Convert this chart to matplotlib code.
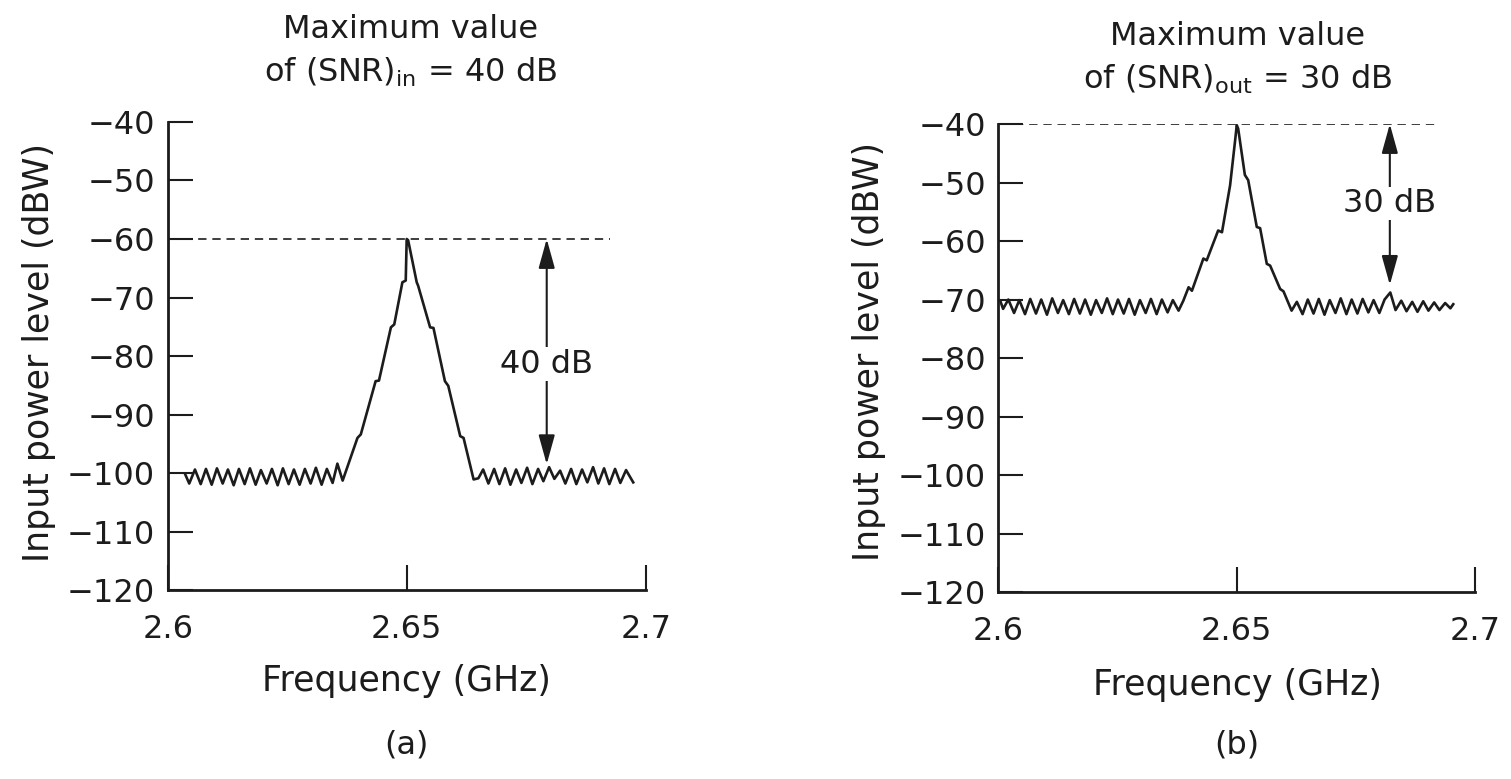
import matplotlib
matplotlib.use("Agg")
import matplotlib.pyplot as plt

plt.rcParams['font.family'] = ['DejaVu Sans']
plt.rcParams['mathtext.fontset'] = 'dejavusans'

INK = '#1c1c1c'

# (a) input spectrum: noise floor at -100 dBW, signal peak -60 dBW
freq_a = [2.6037, 2.6045, 2.6057, 2.6069, 2.6080, 2.6092, 2.6103, 2.6115, 2.6126, 2.6138,
          2.6149, 2.6161, 2.6172, 2.6184, 2.6195, 2.6207, 2.6218, 2.6230, 2.6241, 2.6253,
          2.6264, 2.6276, 2.6287, 2.6299, 2.6310, 2.6322, 2.6333, 2.6345, 2.6355, 2.6366,
          2.6397, 2.6404, 2.6435, 2.6442, 2.6467, 2.6474, 2.6491, 2.6498, 2.6500,
          2.6503, 2.6521, 2.6524, 2.6549, 2.6556, 2.6580, 2.6587, 2.6612, 2.6619, 2.6640,
          2.6650, 2.6660, 2.6671, 2.6683, 2.6694, 2.6706, 2.6717, 2.6729, 2.6740, 2.6752,
          2.6763, 2.6775, 2.6786, 2.6798, 2.6809, 2.6821, 2.6832, 2.6844, 2.6855, 2.6867,
          2.6878, 2.6890, 2.6901, 2.6913, 2.6924, 2.6936, 2.6947, 2.6959, 2.6974]
level_a = [-100.3, -101.8, -99.4, -101.9, -99.3, -102.0, -99.2, -101.8, -99.4, -102.1,
           -99.3, -101.9, -99.2, -102.0, -99.5, -101.8, -99.3, -102.1, -99.2, -101.9,
           -99.4, -102.0, -99.3, -101.8, -99.1, -102.0, -99.3, -101.7, -98.4, -101.3,
           -94.0, -93.4, -84.3, -84.2, -75.1, -74.6, -67.4, -67.1, -60.0,
           -60.2, -67.4, -68.0, -75.1, -75.2, -84.3, -85.1, -93.7, -94.0, -101.1,
           -100.9, -99.4, -101.8, -99.3, -101.9, -99.2, -102.0, -99.4, -101.7, -99.1,
           -101.9, -99.3, -101.4, -99.0, -101.0, -99.6, -101.8, -99.3, -101.9, -99.4,
           -101.6, -99.0, -101.8, -99.2, -101.9, -99.3, -101.7, -99.5, -101.6]

# (b) output spectrum: noise floor at -70 dBW, signal peak -40 dBW
freq_b = [2.6004, 2.6010, 2.6021, 2.6033, 2.6044, 2.6056, 2.6067, 2.6079, 2.6090, 2.6102,
          2.6113, 2.6125, 2.6136, 2.6148, 2.6159, 2.6171, 2.6182, 2.6194, 2.6205, 2.6217,
          2.6228, 2.6240, 2.6251, 2.6263, 2.6274, 2.6286, 2.6297, 2.6309, 2.6320, 2.6332,
          2.6343, 2.6355, 2.6366, 2.6378,
          2.6388, 2.6399, 2.6406, 2.6430, 2.6437, 2.6461, 2.6469, 2.6486, 2.6497, 2.6500,
          2.6503, 2.6517, 2.6524, 2.6542, 2.6549, 2.6563, 2.6570, 2.6591, 2.6598, 2.6615,
          2.6626, 2.6638, 2.6649, 2.6661, 2.6672, 2.6684, 2.6695, 2.6707, 2.6718, 2.6730,
          2.6741, 2.6753, 2.6764, 2.6776, 2.6787, 2.6799, 2.6810, 2.6822, 2.6833, 2.6845,
          2.6856, 2.6868, 2.6879, 2.6891, 2.6902, 2.6914, 2.6925, 2.6937, 2.6948, 2.6954]
level_b = [-70.2, -71.6, -70.0, -72.3, -70.1, -72.5, -69.9, -72.4, -70.0, -72.6,
           -69.8, -72.3, -70.1, -72.5, -69.9, -72.4, -70.0, -72.6, -70.1, -72.3,
           -69.8, -72.5, -70.0, -72.4, -69.9, -72.6, -70.1, -72.3, -69.9, -72.5,
           -70.0, -72.2, -70.1, -71.9,
           -70.2, -67.9, -68.5, -63.0, -63.3, -58.2, -58.5, -50.5, -42.5, -40.2,
           -40.8, -48.7, -49.6, -57.6, -57.8, -63.9, -64.2, -68.2, -68.6, -71.9,
           -70.4, -72.5, -70.0, -72.4, -69.9, -72.6, -70.1, -72.3, -69.8, -72.5,
           -70.0, -72.4, -69.9, -72.2, -70.1, -72.3, -70.0, -68.8, -71.8, -70.2,
           -72.0, -70.4, -72.1, -70.3, -71.9, -70.5, -71.8, -70.6, -71.5, -70.8]

x_ticks = [2.6, 2.65, 2.7]
x_ticklabels = ['2.6', '2.65', '2.7']
y_ticks = [-120, -110, -100, -90, -80, -70, -60, -50, -40]
y_ticklabels = ['\u2212120', '\u2212110', '\u2212100', '\u221290', '\u221280',
                '\u221270', '\u221260', '\u221250', '\u221240']

FS_TICK = 23
FS_LABEL = 25
FS_TITLE = 23

fig = plt.figure(figsize=(15.11, 7.79), dpi=100)
fig.patch.set_facecolor('white')


def setup(ax):
    ax.set_xlim(2.6, 2.7)
    ax.set_ylim(-120, -40)
    for s in ['top', 'right']:
        ax.spines[s].set_visible(False)
    for s in ['left', 'bottom']:
        ax.spines[s].set_linewidth(2.0)
        ax.spines[s].set_color(INK)
    ax.set_xticks(x_ticks)
    ax.set_xticklabels(x_ticklabels)
    ax.set_yticks(y_ticks)
    ax.set_yticklabels(y_ticklabels)
    ax.tick_params(axis='y', direction='in', length=18, width=1.5, pad=9,
                   labelsize=FS_TICK, colors=INK)
    ax.tick_params(axis='x', direction='in', length=18, width=1.5, pad=17,
                   labelsize=FS_TICK, colors=INK)
    ax.patch.set_alpha(0)


def gap_marker(ax, x, top, bottom, label, label_y):
    ax.annotate('', xy=(x, top), xytext=(x, bottom),
                arrowprops=dict(arrowstyle='<|-|>,head_length=0.9,head_width=0.25',
                                mutation_scale=20, lw=1.5, color=INK,
                                shrinkA=0, shrinkB=0))
    ax.text(x, label_y, label, ha='center', va='center', fontsize=FS_TICK, color=INK,
            bbox=dict(facecolor='white', edgecolor='none', pad=1))


ax_a = fig.add_axes([0.111, 0.2426, 0.3163, 0.6008])
setup(ax_a)
ax_a.plot(freq_a, level_a, color=INK, lw=1.9)
ax_a.plot([2.6035, 2.6926], [-60, -60], color=INK, lw=1.2, ls=(0, (5, 3.5)))
gap_marker(ax_a, 2.6793, -60, -98.5, '40 dB', -81.4)

ax_b = fig.add_axes([0.6607, 0.2400, 0.3156, 0.6008])
setup(ax_b)
ax_b.plot(freq_b, level_b, color=INK, lw=1.9)
ax_b.plot([2.6035, 2.6926], [-40, -40], color=INK, lw=1.2, ls=(0, (5, 3.5)))
gap_marker(ax_b, 2.6821, -40, -67.5, '30 dB', -53.6)

# titles, axis captions and panel letters
fig.text(0.2715, 0.962, 'Maximum value', ha='center', va='center', fontsize=FS_TITLE, color=INK)
fig.text(0.2715, 0.907, r'of (SNR)$_{\mathrm{in}}$ = 40 dB', ha='center', va='center',
         fontsize=FS_TITLE, color=INK)
fig.text(0.819, 0.953, 'Maximum value', ha='center', va='center', fontsize=FS_TITLE, color=INK)
fig.text(0.819, 0.898, r'of (SNR)$_{\mathrm{out}}$ = 30 dB', ha='center', va='center',
         fontsize=FS_TITLE, color=INK)

for xc, yl in [(0.026, 0.547), (0.575, 0.549)]:
    fig.text(xc, yl, 'Input power level (dBW)', rotation=90, ha='center', va='center',
             fontsize=FS_LABEL, color=INK)

fig.text(0.2693, 0.126, 'Frequency (GHz)', ha='center', va='center', fontsize=FS_LABEL, color=INK)
fig.text(0.8187, 0.121, 'Frequency (GHz)', ha='center', va='center', fontsize=FS_LABEL, color=INK)
fig.text(0.2693, 0.044, '(a)', ha='center', va='center', fontsize=FS_TICK, color=INK)
fig.text(0.8187, 0.044, '(b)', ha='center', va='center', fontsize=FS_TICK, color=INK)

fig.savefig('out.png', dpi=100, facecolor='white')
